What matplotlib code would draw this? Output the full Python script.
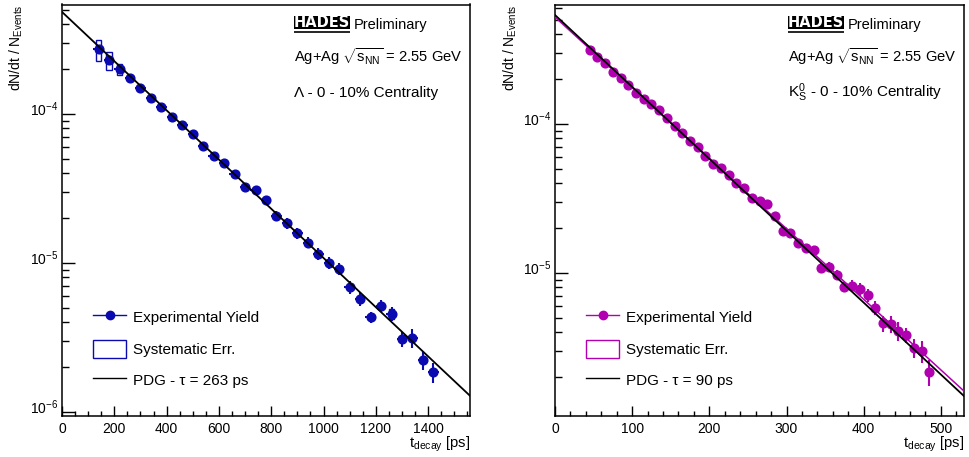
import numpy as np
import matplotlib
matplotlib.use("Agg")
import matplotlib.pyplot as plt
from matplotlib.lines import Line2D
from matplotlib.patches import Rectangle
from matplotlib.ticker import LogLocator, MultipleLocator, NullFormatter
from matplotlib.transforms import ScaledTranslation

plt.rcParams['font.family'] = ['Liberation Sans', 'DejaVu Sans']
plt.rcParams['mathtext.fontset'] = 'custom'
plt.rcParams['mathtext.rm'] = 'Liberation Sans'
plt.rcParams['mathtext.it'] = 'Liberation Sans:italic'
plt.rcParams['mathtext.default'] = 'regular'

# Lambda decay time spectrum (ps, yield per event)
lam_t = [140, 180, 220, 260, 300, 340, 380, 420, 460, 500, 540, 580, 620, 660, 700, 740, 780,
         820, 860, 900, 940, 980, 1020, 1060, 1100, 1140, 1180, 1220, 1260, 1300, 1340, 1380, 1420]
lam_y = [2.72e-4, 2.30e-4, 2.00e-4, 1.75e-4, 1.50e-4, 1.29e-4, 1.114e-4, 9.59e-5, 8.40e-5, 7.38e-5,
         6.13e-5, 5.22e-5, 4.71e-5, 3.98e-5, 3.25e-5, 3.09e-5, 2.65e-5, 2.08e-5, 1.85e-5, 1.58e-5,
         1.37e-5, 1.149e-5, 1.005e-5, 9.16e-6, 6.93e-6, 5.76e-6, 4.32e-6, 5.14e-6, 4.55e-6, 3.08e-6,
         3.14e-6, 2.22e-6, 1.85e-6]
lam_rel_err = [0.04, 0.04, 0.04, 0.04, 0.04, 0.045, 0.045, 0.05, 0.05, 0.05, 0.055, 0.06, 0.06,
               0.06, 0.065, 0.07, 0.07, 0.075, 0.08, 0.08, 0.085, 0.09, 0.09, 0.10, 0.10, 0.11,
               0.08, 0.09, 0.11, 0.11, 0.14, 0.14, 0.16]
# systematic errors only shown for a few bins
lam_sys_t = [140, 180, 220, 1260]
lam_sys_rel = [0.16, 0.14, 0.08, 0.08]
lam_tau = 263
lam_amp = 4.84e-4

# K0s decay time spectrum
k0_t = [45, 55, 65, 75, 85, 95, 105, 115, 125, 135, 145, 155, 165, 175, 185, 195, 205, 215, 225,
        235, 245, 255, 265, 275, 285, 295, 305, 315, 325, 335, 345, 355, 365, 375, 385, 395, 405,
        415, 425, 435, 445, 455, 465, 475, 485]
k0_y = [3.137e-4, 2.80e-4, 2.58e-4, 2.244e-4, 2.045e-4, 1.818e-4, 1.607e-4, 1.472e-4, 1.356e-4,
        1.241e-4, 1.092e-4, 9.69e-5, 8.74e-5, 7.72e-5, 7.01e-5, 6.10e-5, 5.39e-5, 5.09e-5, 4.55e-5,
        4.04e-5, 3.70e-5, 3.20e-5, 3.02e-5, 2.89e-5, 2.41e-5, 1.92e-5, 1.85e-5, 1.58e-5, 1.465e-5,
        1.427e-5, 1.085e-5, 1.102e-5, 9.70e-6, 8.09e-6, 8.18e-6, 7.84e-6, 7.12e-6, 5.85e-6, 4.60e-6,
        4.55e-6, 4.10e-6, 3.84e-6, 3.15e-6, 3.00e-6, 2.18e-6]
k0_rel_err = [0.03] * 12 + [0.035] * 6 + [0.04] * 6 + [0.05] * 6 + [0.07, 0.07, 0.08, 0.08, 0.09,
              0.10, 0.10, 0.11, 0.12, 0.13, 0.15, 0.12, 0.14, 0.17, 0.20]
k0_tau = 90
k0_amp = 5.39e-4
k0_fit_tau = 91.7
k0_fit_amp = 5.22e-4

blue = '#0a0ab0'
magenta = '#b000b0'

fig = plt.figure(figsize=(9.69, 4.57), dpi=100)
ax1 = fig.add_axes([62 / 969, 1 - 416 / 457, 408 / 969, 411.5 / 457])
ax2 = fig.add_axes([555 / 969, 1 - 416 / 457, 409 / 969, 411.5 / 457])


def style_axis(ax, xmax, ylim, xmajor, xminor):
    ax.set_yscale('log')
    ax.set_xlim(0, xmax)
    ax.set_ylim(*ylim)
    ax.xaxis.set_major_locator(MultipleLocator(xmajor))
    ax.xaxis.set_minor_locator(MultipleLocator(xminor))
    ax.yaxis.set_major_locator(LogLocator(base=10))
    ax.yaxis.set_minor_locator(LogLocator(base=10, subs=np.arange(2, 10)))
    ax.yaxis.set_minor_formatter(NullFormatter())
    ax.tick_params(which='both', direction='in', top=False, right=False, labelsize=10, width=1)
    ax.tick_params(axis='x', which='major', length=7.5, pad=4.5)
    ax.tick_params(axis='x', which='minor', length=3.8)
    ax.tick_params(axis='y', which='major', length=9, pad=3)
    ax.tick_params(axis='y', which='minor', length=4.8)
    # ROOT puts the 10^n labels a bit above the tick
    for lbl in ax.get_yticklabels():
        lbl.set_transform(lbl.get_transform() + ScaledTranslation(0, 4 / 72, fig.dpi_scale_trans))
    for s in ax.spines.values():
        s.set_linewidth(1.1)
    ax.text(1.0, -0.046, r't$_{\rm decay}$ [ps]', transform=ax.transAxes, ha='right',
            va='top', fontsize=10.7)


def header(ax, line3):
    # HADES logo: black block with white letters and an underline
    x0, x1 = 0.569, 0.706
    ax.add_patch(Rectangle((x0, 0.9397), x1 - x0, 0.0330, transform=ax.transAxes, fc='black',
                           ec='none', clip_on=False))
    ax.plot([x0, x1], [0.9335, 0.9335], transform=ax.transAxes, color='black', lw=1.2,
            solid_capstyle='butt', clip_on=False)
    ax.text((x0 + x1) / 2, 0.9562, 'HADES', transform=ax.transAxes, ha='center', va='center',
            color='white', fontsize=10.5, fontweight='heavy', family='DejaVu Sans')
    ax.text(0.716, 0.9405, 'Preliminary', transform=ax.transAxes, ha='left', va='baseline',
            fontsize=10.5)
    ax.text(0.569, 0.860, r'Ag+Ag $\sqrt{s_{\rm NN}}$ = 2.55 GeV', transform=ax.transAxes,
            ha='left', va='baseline', fontsize=10.6)
    ax.text(0.569, 0.776, line3, transform=ax.transAxes, ha='left', va='baseline', fontsize=11)


def legend(ax, color, tau_label):
    handles = [Line2D([], [], color=color, marker='o', markersize=6, lw=1),
               Rectangle((0, 0), 1, 1, fc='none', ec=color, lw=1),
               Line2D([], [], color='black', lw=1)]
    labels = ['Experimental Yield', 'Systematic Err.', tau_label]
    ax.legend(handles, labels, loc='lower left', bbox_to_anchor=(0.0767, 0.066), frameon=False,
              fontsize=11, handlelength=2.16, handleheight=1.42, labelspacing=0.88,
              handletextpad=0.44, borderpad=0, borderaxespad=0, numpoints=1)


# ---- Lambda panel ----
t = np.array(lam_t, dtype=float)
y = np.array(lam_y)
ax1.errorbar(t, y, xerr=20, yerr=y * np.array(lam_rel_err), fmt='o', color=blue, ms=6.3,
             elinewidth=1.5, capsize=0, zorder=3)
for ts, rs in zip(lam_sys_t, lam_sys_rel):
    yv = lam_y[lam_t.index(ts)]
    ax1.add_patch(Rectangle((ts - 11, yv * (1 - rs)), 22, 2 * rs * yv, fc='none', ec=blue, lw=1,
                            zorder=2))
tt = np.linspace(0, 1560, 300)
ax1.plot(tt, lam_amp * np.exp(-tt / lam_tau), color='black', lw=1.3, zorder=4)
style_axis(ax1, 1560, (9.4e-7, 5.43e-4), 200, 50)
header(ax1, 'Λ - 0 - 10% Centrality')
legend(ax1, blue, 'PDG - τ = 263 ps')

# ---- K0s panel ----
t = np.array(k0_t, dtype=float)
y = np.array(k0_y)
ax2.errorbar(t, y, xerr=5, yerr=y * np.array(k0_rel_err), fmt='o', color=magenta, ms=6.3,
             elinewidth=1.5, capsize=0, zorder=3)
tt = np.linspace(0, 530, 300)
ax2.plot(tt, k0_fit_amp * np.exp(-tt / k0_fit_tau), color=magenta, lw=1.1, zorder=4)
ax2.plot(tt, k0_amp * np.exp(-tt / k0_tau), color='black', lw=1.3, zorder=4)
style_axis(ax2, 530, (1.097e-6, 6.34e-4), 100, 20)
header(ax2, r'K$^{0}_{S}$ - 0 - 10% Centrality')
legend(ax2, magenta, 'PDG - τ = 90 ps')

for x0 in (16 / 969, 510 / 969):
    fig.text(x0, 0.99, r'dN/dt / N$_{\rm Events}$', rotation=90, ha='center', va='top', fontsize=10)

plt.savefig('out.png', dpi=100)
